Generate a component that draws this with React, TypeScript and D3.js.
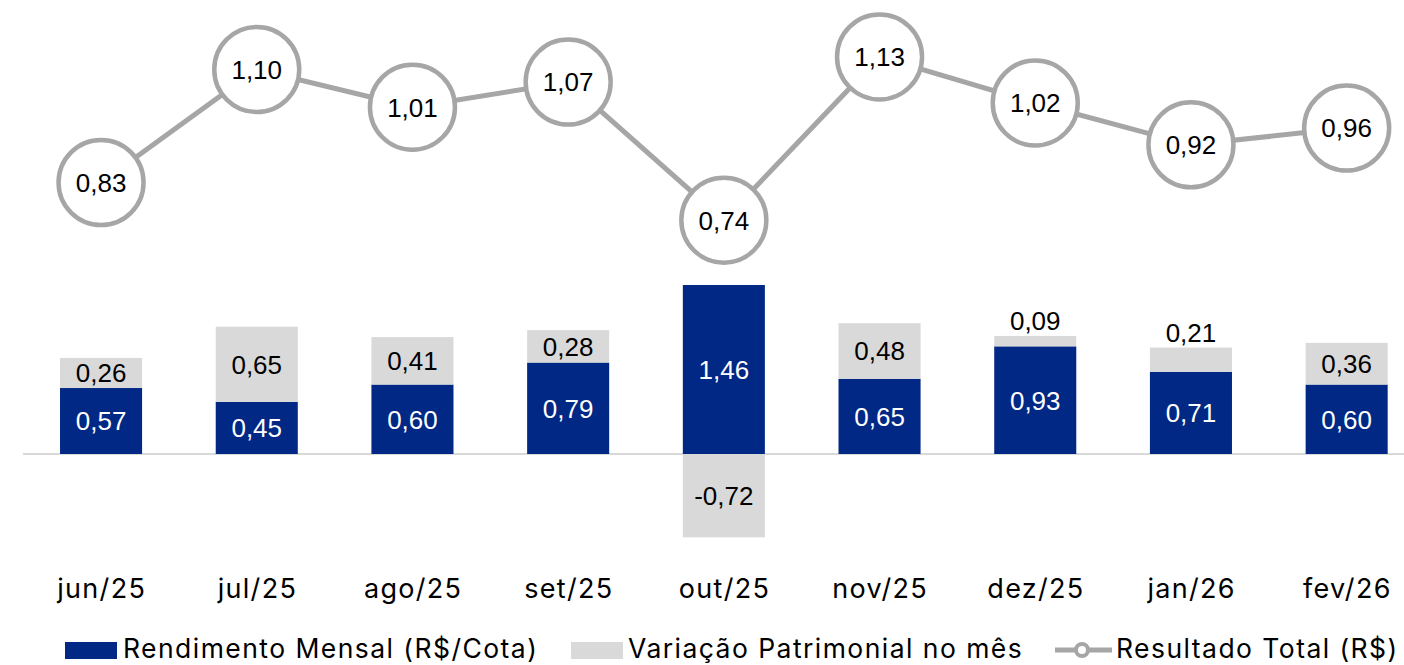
import React from "react";
import * as d3 from "d3";

const categories = ["jun/25", "jul/25", "ago/25", "set/25", "out/25", "nov/25", "dez/25", "jan/26", "fev/26"];
const rendimento = [0.57, 0.45, 0.6, 0.79, 1.46, 0.65, 0.93, 0.71, 0.6];
const variacao = [0.26, 0.65, 0.41, 0.28, -0.72, 0.48, 0.09, 0.21, 0.36];
const resultado = [0.83, 1.1, 1.01, 1.07, 0.74, 1.13, 1.02, 0.92, 0.96];
const legendLabels = ["Rendimento Mensal (R$/Cota)", "Variação Patrimonial no mês", "Resultado Total (R$)"];

const W = 1404;
const H = 665;
const BLUE = "#002884";
const LGRAY = "#D9D9D9";
const MGRAY = "#A6A6A6";
const LABEL_FONT = "'Liberation Sans', Arial, sans-serif";
const UI_FONT = "Inter, 'Open Sans', sans-serif";
const UI_SPACING = 1.3;

const fmt = (v: number) => v.toFixed(2).replace(".", ",");

export default function App() {
  const x = d3.scaleBand<string>().domain(categories).range([23.2, 23.2 + 9 * 155.7]).paddingInner(0.473).paddingOuter(0.2365);
  const y = d3.scaleLinear().domain([0, 1.46]).range([454, 285]);
  const yl = d3.scaleLinear().domain([0.83, 1.1]).range([182.5, 69.5]);
  const bw = x.bandwidth();
  const cx = (c: string) => (x(c) as number) + bw / 2;

  const line = d3
    .line<number>()
    .x((_, i) => cx(categories[i]))
    .y((d) => yl(d));

  return (
    <svg width={W} height={H} style={{ position: "absolute", left: 0, top: 0 }}>
      <rect width={W} height={H} fill="#fff" />
      <line x1={23} x2={W} y1={y(0)} y2={y(0)} stroke={LGRAY} strokeWidth={2} />
      {categories.map((c, i) => {
        const r = rendimento[i];
        const v = variacao[i];
        const x0 = x(c) as number;
        const blueTop = y(r);
        const gTop = v >= 0 ? y(r + v) : y(0);
        const gBot = v >= 0 ? y(r) : y(v);
        const gH = gBot - gTop;
        const gLabelY = gH > 28 ? (gTop + gBot) / 2 : gTop - 15;
        return (
          <g key={c}>
            <rect x={x0} y={blueTop} width={bw} height={y(0) - blueTop} fill={BLUE} />
            <rect x={x0} y={gTop} width={bw} height={gH} fill={LGRAY} />
            <text x={cx(c)} y={(blueTop + y(0)) / 2} dy="0.36em" textAnchor="middle" fill="#fff" fontFamily={LABEL_FONT} fontSize={26}>
              {fmt(r)}
            </text>
            <text x={cx(c)} y={gLabelY} dy="0.36em" textAnchor="middle" fill="#000" fontFamily={LABEL_FONT} fontSize={26}>
              {fmt(v)}
            </text>
            <text x={cx(c) + UI_SPACING / 2} y={588} dy="0.36em" textAnchor="middle" fill="#000" fontFamily={UI_FONT} fontSize={27} letterSpacing={UI_SPACING}>
              {c}
            </text>
          </g>
        );
      })}
      <path d={line(resultado) as string} fill="none" stroke={MGRAY} strokeWidth={5} />
      {resultado.map((v, i) => (
        <g key={"p" + i}>
          <circle cx={cx(categories[i])} cy={yl(v)} r={42.5} fill="#fff" stroke={MGRAY} strokeWidth={4.5} />
          <text x={cx(categories[i])} y={yl(v)} dy="0.36em" textAnchor="middle" fill="#000" fontFamily={LABEL_FONT} fontSize={26}>
            {fmt(v)}
          </text>
        </g>
      ))}
      <g fontFamily={UI_FONT} fontSize={26.5} fill="#000" letterSpacing={1.45}>
        <rect x={65} y={642} width={52} height={17} fill={BLUE} />
        <text x={123} y={657.5}>{legendLabels[0]}</text>
        <rect x={571} y={642} width={52} height={17} fill={LGRAY} />
        <text x={628} y={657.5}>{legendLabels[1]}</text>
        <line x1={1055} x2={1112} y1={650} y2={650} stroke={MGRAY} strokeWidth={5} />
        <circle cx={1082} cy={650} r={6} fill="#fff" stroke={MGRAY} strokeWidth={4} />
        <text x={1116} y={657.5}>{legendLabels[2]}</text>
      </g>
    </svg>
  );
}
